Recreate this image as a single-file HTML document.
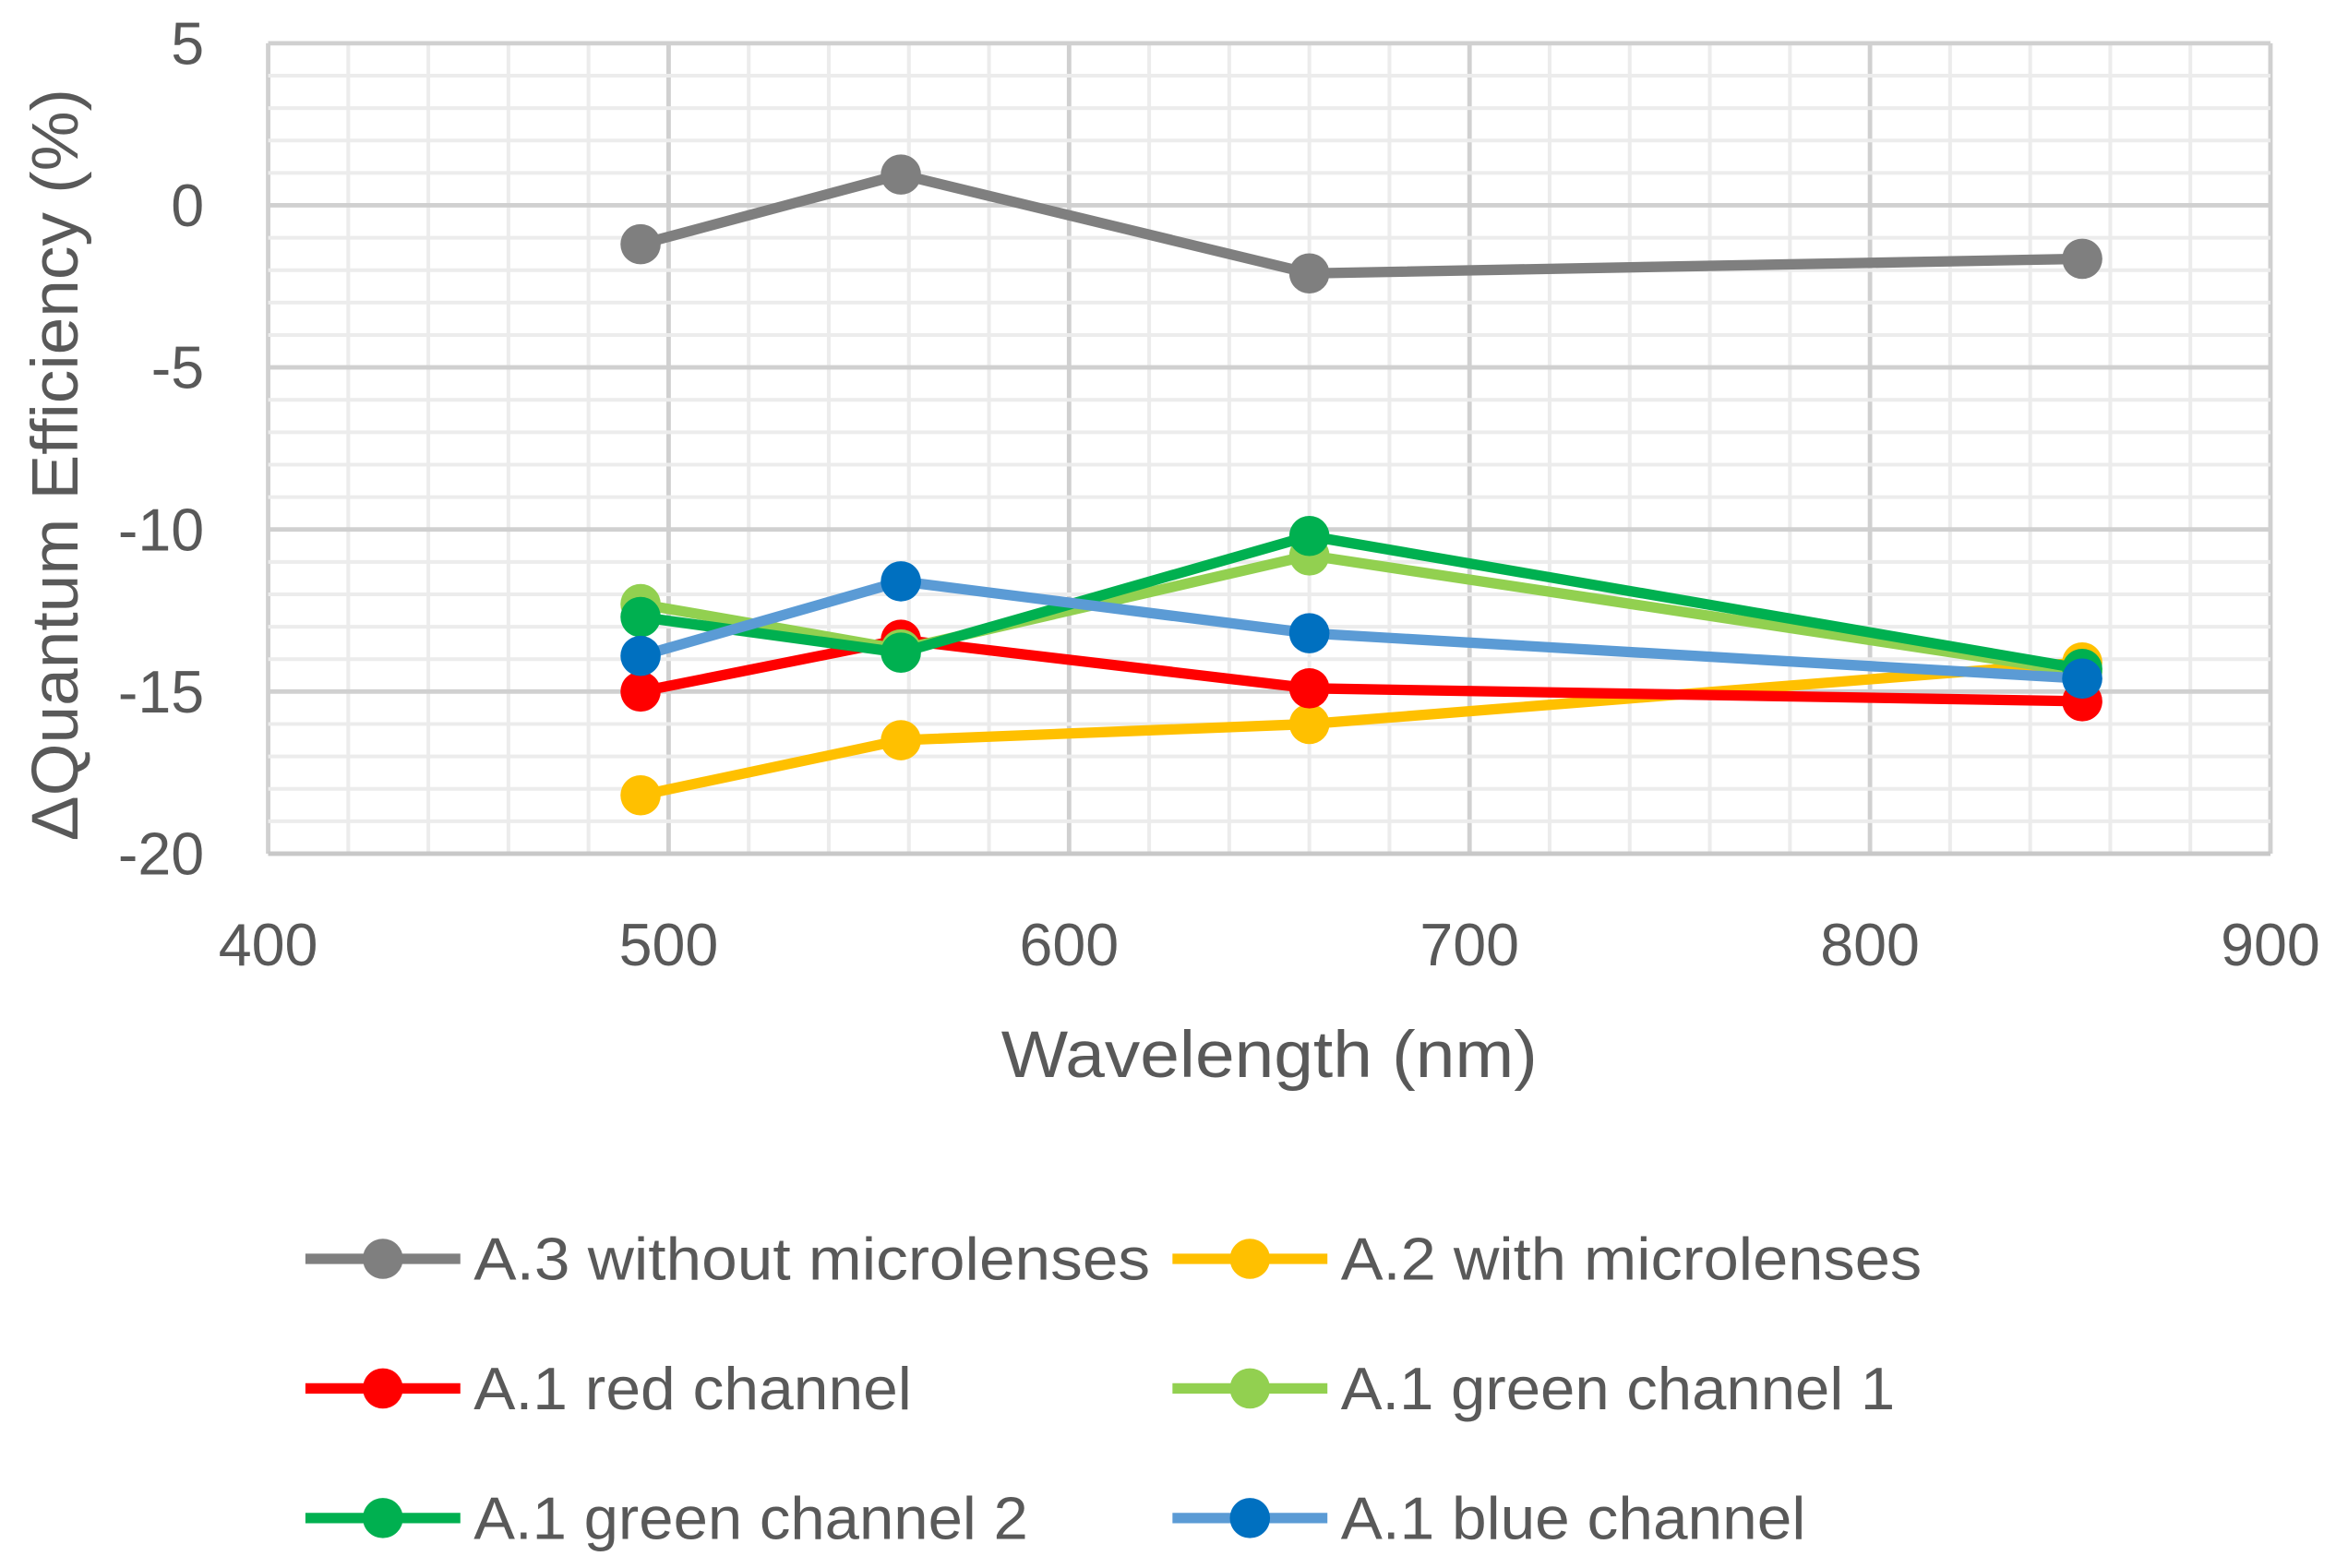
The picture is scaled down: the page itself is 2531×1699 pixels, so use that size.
<!DOCTYPE html>
<html><head><meta charset="utf-8"><style>
html,body{margin:0;padding:0;background:#fff;}
svg{display:block;font-family:"Liberation Sans",sans-serif;}
</style></head><body>
<svg id="chart" width="2531" height="1699" viewBox="0 0 1568 1052.5" xmlns="http://www.w3.org/2000/svg">
<g id="grid"></g>
<g id="axes"></g>
<g id="series"></g>
<g id="legend"></g>
<text x="852" y="723" font-size="44" fill="#595959" text-anchor="middle" textLength="360" lengthAdjust="spacingAndGlyphs">Wavelength (nm)</text>
<text transform="translate(52,312) rotate(-90)" font-size="44" fill="#595959" text-anchor="middle" textLength="505" lengthAdjust="spacingAndGlyphs">ΔQuantum Efficiency (%)</text>
</svg>
<script>
const wavelengths = [493, 558, 660, 853];
const seriesNames = ["A.3 without microlenses","A.2 with microlenses","A.1 red channel","A.1 green channel 1","A.1 green channel 2","A.1 blue channel"];
const a3Values = [-1.2, 0.95, -2.1, -1.65];
const a2Values = [-18.2, -16.5, -16.0, -14.1];
const redValues = [-15.0, -13.4, -14.9, -15.3];
const green1Values = [-12.3, -13.7, -10.8, -14.4];
const green2Values = [-12.7, -13.8, -10.2, -14.3];
const blueValues = [-13.9, -11.6, -13.2, -14.6];
const xTicks = [400, 500, 600, 700, 800, 900];
const yTicks = [5, 0, -5, -10, -15, -20];

const NS = "http://www.w3.org/2000/svg";
const X0=180, X1=1524, Y0=29, Y1=573;
const xs = v => X0 + (v-400)/500*(X1-X0);
const ys = v => Y0 + (5-v)/25*(Y1-Y0);
function mk(tag, attrs, parent){const e=document.createElementNS(NS,tag);for(const k in attrs)e.setAttribute(k,attrs[k]);parent.appendChild(e);return e;}
const grid=document.getElementById('grid'), axes=document.getElementById('axes'), ser=document.getElementById('series'), leg=document.getElementById('legend');

for(let v=400; v<=900; v+=20){
  const major = v%100===0;
  const l=mk('line',{x1:xs(v),x2:xs(v),y1:Y0,y2:Y1,stroke:major?'#d0d0d0':'#ececec','stroke-width':major?3:2.5},grid);
  
  
}
for(let v=5; v>=-20; v-=1){
  const major = v%5===0;
  const l=mk('line',{x1:X0,x2:X1,y1:ys(v),y2:ys(v),stroke:major?'#d0d0d0':'#ececec','stroke-width':major?3:2.5},grid);
  
  
}
const xa=mk('line',{x1:X0,x2:X1,y1:Y1,y2:Y1,stroke:'#c8c8c8','stroke-width':3},axes);


xTicks.forEach(v=>{
  const t=mk('text',{x:xs(v),y:648,'font-size':40,fill:'#595959','text-anchor':'middle'},axes);
  t.textContent=v;
  
  
});
yTicks.forEach(v=>{
  const t=mk('text',{x:137,y:ys(v)+14,'font-size':40,fill:'#595959','text-anchor':'end'},axes);
  t.textContent=v;
  
  
});

const allValues=[a3Values,a2Values,redValues,green1Values,green2Values,blueValues];
const lineColors=['#7f7f7f','#ffc000','#ff0000','#92d050','#00b050','#5b9bd5'];
const markColors=['#7f7f7f','#ffc000','#ff0000','#92d050','#00b050','#0070c0'];
allValues.forEach((vals,i)=>{
  const g=mk('g',{},ser);
  
  
  const pts=vals.map((v,j)=>xs(wavelengths[j])+','+ys(v)).join(' ');
  const pl=mk('polyline',{points:pts,fill:'none',stroke:lineColors[i],'stroke-width':7,'stroke-linejoin':'round'},g);
  
  
  vals.forEach((v,j)=>{
    const c=mk('circle',{cx:xs(wavelengths[j]),cy:ys(v),r:13.5,fill:markColors[i]},g);
    
    
  });
});

const legendWidths=[454,390,294,372,372,312];
seriesNames.forEach((n,i)=>{
  const col=i%2, row=Math.floor(i/2);
  const lx = col===0?205:787, ly=845+row*87;
  const g=mk('g',{},leg);
  
  
  mk('line',{x1:lx,x2:lx+104,y1:ly,y2:ly,stroke:lineColors[i],'stroke-width':7},g);
  mk('circle',{cx:lx+52,cy:ly,r:13.5,fill:markColors[i]},g);
  const t=mk('text',{x:lx+113,y:ly+14,'font-size':40,fill:'#595959',textLength:legendWidths[i],lengthAdjust:'spacingAndGlyphs'},g);
  t.textContent=n;
});
</script>
</body></html>
